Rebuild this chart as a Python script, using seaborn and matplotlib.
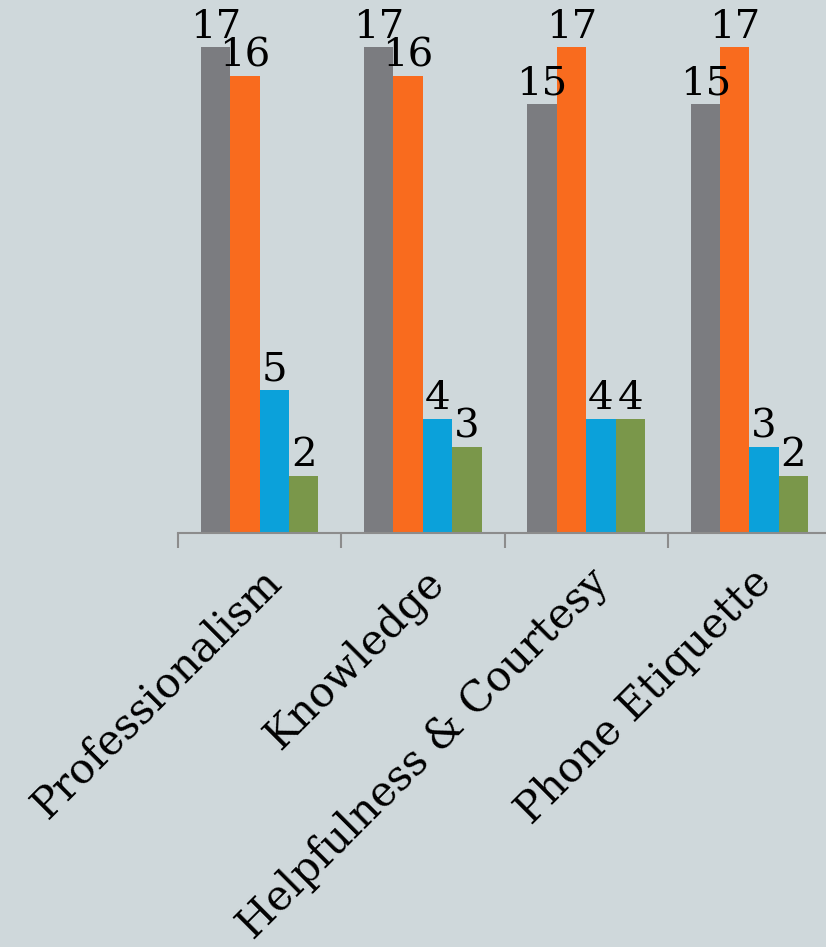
import pandas as pd
import matplotlib
matplotlib.use('Agg')
import matplotlib.pyplot as plt
import seaborn as sns

# ============================================
# DATA
# ============================================
categories = ['Professionalism', 'Knowledge', 'Helpfulness & Courtesy', 'Phone Etiquette']
series = ['Excellent', 'Good', 'Fair', 'Poor']
excellent = [17, 17, 15, 15]
good = [16, 16, 17, 17]
fair = [5, 4, 4, 3]
poor = [2, 3, 4, 2]

colors = ['#7B7C80', '#F96B1E', '#0BA1DA', '#7A974A']
bg = '#CFD8DB'

df = pd.DataFrame({
    'Category': categories * 4,
    'Rating': [s for s in series for _ in categories],
    'Count': excellent + good + fair + poor,
})

# ============================================
# PLOT
# ============================================
sns.set_style('white')
plt.rcParams['font.family'] = ['DejaVu Serif']

fig = plt.figure(figsize=(8.26, 9.47), dpi=100)
fig.patch.set_facecolor(bg)
ax = fig.add_axes([178 / 826, 414 / 947, 653 / 826, 486 / 947])
ax.set_facecolor(bg)

sns.barplot(data=df, x='Category', y='Count', hue='Rating', order=categories,
            hue_order=series, palette=colors, width=0.72, gap=0,
            saturation=1, legend=False, linewidth=0, edgecolor='none', ax=ax)

for c in ax.containers:
    ax.bar_label(c, fontsize=29, padding=1, color='black')

ax.set_ylim(0, 17)
ax.set_xlim(-0.5, 3.5)
ax.set_xlabel('')
ax.set_ylabel('')
ax.set_yticks([])

for side in ['left', 'right', 'top']:
    ax.spines[side].set_visible(False)
ax.spines['bottom'].set_color('#8C8C8C')
ax.spines['bottom'].set_linewidth(1.5)

ax.set_xticks(range(len(categories)))
ax.set_xticklabels(categories, rotation=45, ha='right', rotation_mode='anchor',
                   fontsize=30, color='black')
ax.tick_params(axis='x', which='major', length=0, pad=20)
ax.set_xticks([-0.5, 0.5, 1.5, 2.5, 3.5], minor=True)
ax.tick_params(axis='x', which='minor', length=11, width=1.5, color='#8C8C8C',
               direction='out', bottom=True)

fig.savefig('out.png', dpi=100, facecolor=bg)
